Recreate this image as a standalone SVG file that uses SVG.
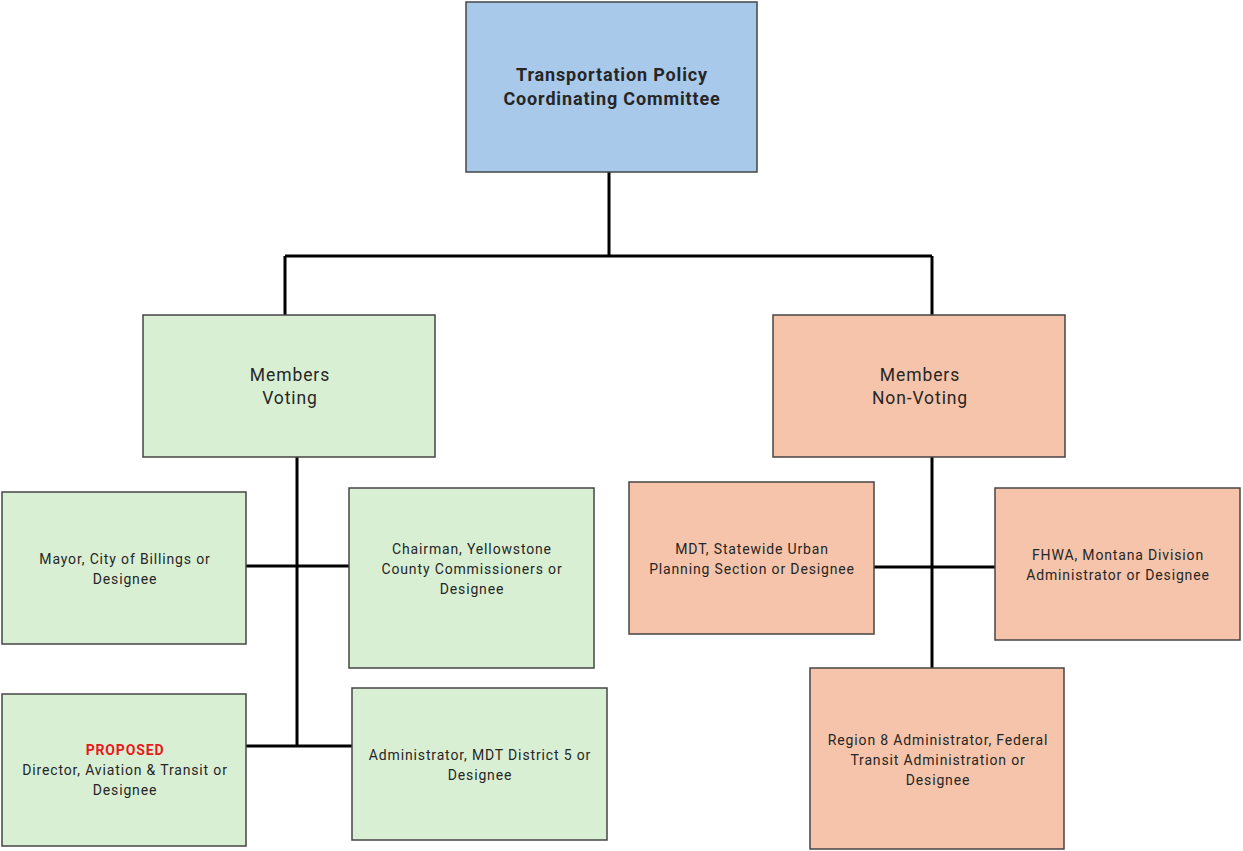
<svg xmlns="http://www.w3.org/2000/svg" width="1243" height="851" viewBox="0 0 1243 851">
<style>
.box{stroke:#454545;stroke-width:1.5}
.blue{fill:#a9c9ea}
.green{fill:#d9efd3}
.orange{fill:#f5c4aa}
.conn{fill:none;stroke:#000;stroke-width:3}
text{font-family:Roboto,"Liberation Sans",sans-serif;fill:#262626;text-anchor:middle}
.t{font-size:18px;font-weight:bold;letter-spacing:0.85px}
.m{font-size:17.5px;letter-spacing:0.9px}
.s{font-size:14px;letter-spacing:0.85px}
.red{fill:#e8181c;font-weight:bold}
</style>
<rect width="1243" height="851" fill="#fff"/>
<g id="connectors">
<path class="conn" d="M609 172V256M285 256H932M285 256V315M932 256V315"/>
<path class="conn" d="M297 457V746M246 566H349M246 746H352"/>
<path class="conn" d="M932 457V668M874 567H995"/>
</g>
<g id="tpcc">
<rect class="box blue" x="466" y="2" width="291" height="170"/>
<text class="t" x="612" y="81">Transportation Policy</text>
<text class="t" x="612" y="105">Coordinating Committee</text>
</g>
<g id="voting">
<rect class="box green" x="143" y="315" width="292" height="142"/>
<text class="m" x="290" y="381">Members</text>
<text class="m" x="290" y="404">Voting</text>
</g>
<g id="nonvoting">
<rect class="box orange" x="773" y="315" width="292" height="142"/>
<text class="m" x="920" y="381">Members</text>
<text class="m" x="920" y="404">Non-Voting</text>
</g>
<g id="mayor">
<rect class="box green" x="2" y="492" width="244" height="152"/>
<text class="s" x="125" y="564">Mayor, City of Billings or</text>
<text class="s" x="125" y="584">Designee</text>
</g>
<g id="chairman">
<rect class="box green" x="349" y="488" width="245" height="180"/>
<text class="s" x="472" y="554">Chairman, Yellowstone</text>
<text class="s" x="472" y="574">County Commissioners or</text>
<text class="s" x="472" y="594">Designee</text>
</g>
<g id="director">
<rect class="box green" x="2" y="694" width="244" height="152"/>
<text class="s red" x="125" y="755">PROPOSED</text>
<text class="s" x="125" y="775">Director, Aviation &amp; Transit or</text>
<text class="s" x="125" y="795">Designee</text>
</g>
<g id="mdt-district">
<rect class="box green" x="352" y="688" width="255" height="152"/>
<text class="s" x="480" y="760">Administrator, MDT District 5 or</text>
<text class="s" x="480" y="780">Designee</text>
</g>
<g id="mdt-statewide">
<rect class="box orange" x="629" y="482" width="245" height="152"/>
<text class="s" x="752" y="554">MDT, Statewide Urban</text>
<text class="s" x="752" y="574">Planning Section or Designee</text>
</g>
<g id="fhwa">
<rect class="box orange" x="995" y="488" width="245" height="152"/>
<text class="s" x="1118" y="560">FHWA, Montana Division</text>
<text class="s" x="1118" y="580">Administrator or Designee</text>
</g>
<g id="fta">
<rect class="box orange" x="810" y="668" width="254" height="181"/>
<text class="s" x="938" y="745">Region 8 Administrator, Federal</text>
<text class="s" x="938" y="765">Transit Administration or</text>
<text class="s" x="938" y="785">Designee</text>
</g>
</svg>
